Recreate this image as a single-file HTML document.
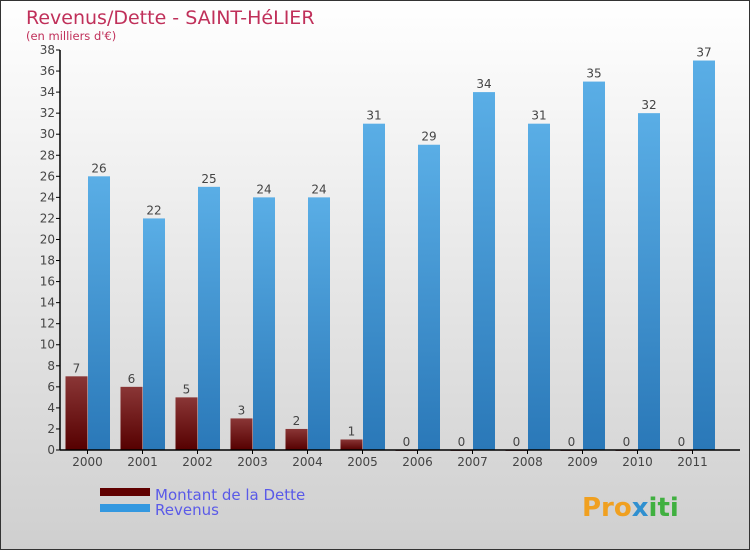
<!DOCTYPE html>
<html><head><meta charset="utf-8"><style>
body{margin:0}
#c{width:750px;height:550px;position:relative;overflow:hidden;font-family:"DejaVu Sans","Liberation Sans",sans-serif}
</style></head><body>
<div id="c">
<svg id="s" width="750" height="550" xmlns="http://www.w3.org/2000/svg">
<defs>
<linearGradient id="bg" x1="0" y1="0" x2="0" y2="1"><stop offset="0" stop-color="#ffffff"/><stop offset="1" stop-color="#cfcfcf"/></linearGradient>
<linearGradient id="gd" x1="0" y1="0" x2="0" y2="1"><stop offset="0" stop-color="#8a3636"/><stop offset="1" stop-color="#560000"/></linearGradient>
<linearGradient id="gr" x1="0" y1="0" x2="0" y2="1"><stop offset="0" stop-color="#5aaee6"/><stop offset="1" stop-color="#2a78b8"/></linearGradient>
</defs>
<rect x="0.5" y="0.5" width="749" height="549" fill="url(#bg)" stroke="#333"/>
<text x="26" y="24" font-size="19" fill="#c0305a">Revenus/Dette - SAINT-HéLIER</text>
<text x="26" y="40" font-size="11.5" fill="#c0305a">(en milliers d'€)</text>
<g id="g"></g>
<rect x="100" y="488" width="50" height="8" fill="#600000"/>
<text x="155" y="500" font-size="15" fill="#5a5ae8">Montant de la Dette</text>
<rect x="100" y="504" width="50" height="8" fill="#3398e0"/>
<text x="155" y="515" font-size="15" fill="#5a5ae8">Revenus</text>
<text x="582" y="516" font-size="26" font-weight="bold" fill="#f0a020">Pro<tspan fill="#3090d0">x</tspan><tspan fill="#40b040">iti</tspan></text>
</svg>
</div>
<script>
const years=["2000","2001","2002","2003","2004","2005","2006","2007","2008","2009","2010","2011"];
const dette=[7,6,5,3,2,1,0,0,0,0,0,0];
const revenus=[26,22,25,24,24,31,29,34,31,35,32,37];
const yTicks=[0,2,4,6,8,10,12,14,16,18,20,22,24,26,28,30,32,34,36,38];
const NS="http://www.w3.org/2000/svg";
const g=document.getElementById('g');
const x0=60,y0=450,yMax=38,ph=400,gw=55;
function y(v){return y0-v/yMax*ph;}
function gx(i){return x0+i*gw;}
function mk(t,a,txt){const e=document.createElementNS(NS,t);for(const k in a)e.setAttribute(k,a[k]);if(txt!==undefined)e.textContent=txt;g.appendChild(e);return e;}
yTicks.forEach(v=>{
 const l=mk('line',{x1:x0-4,x2:x0,y1:y(v),y2:y(v),stroke:'#000'});
 
 
 const t=mk('text',{x:x0-5,y:y(v)+4,'font-size':12,fill:'#444','text-anchor':'end'},v);
 
 
});
years.forEach((yr,i)=>{
 const bx=gx(i);
 const hd=y0-y(dette[i]);
 const b1=mk('rect',{x:bx+5.5,y:y(dette[i]),width:22,height:Math.max(hd,0.8),fill:'url(#gd)'});
 
 
 const t1=mk('text',{x:bx+16.5,y:y(dette[i])-4,'font-size':12,fill:'#444','text-anchor':'middle'},dette[i]);
 
 
 const b2=mk('rect',{x:bx+28,y:y(revenus[i]),width:22,height:y0-y(revenus[i]),fill:'url(#gr)'});
 
 
 const t2=mk('text',{x:bx+39,y:y(revenus[i])-4,'font-size':12,fill:'#444','text-anchor':'middle'},revenus[i]);
 
 
 const tk=mk('line',{x1:bx+27.5,x2:bx+27.5,y1:y0,y2:y0+4,stroke:'#000'});
 
 
 const xl=mk('text',{x:bx+27.5,y:y0+16,'font-size':12,fill:'#444','text-anchor':'middle'},yr);
 
 
});
const ya=mk('line',{x1:x0,x2:x0,y1:y(yMax),y2:y0,stroke:'#000','stroke-width':1.5});


const xa=mk('line',{x1:x0,x2:740,y1:y0,y2:y0,stroke:'#000','stroke-width':1.5});


</script>
</body></html>
